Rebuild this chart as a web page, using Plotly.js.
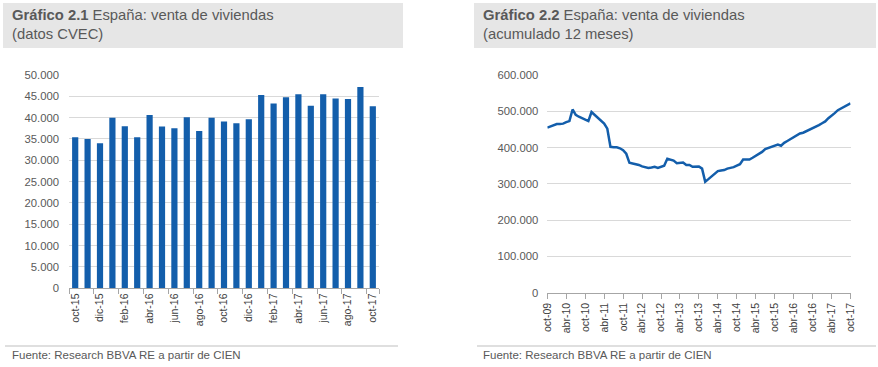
<!DOCTYPE html>
<html>
<head>
<meta charset="utf-8">
<script src="https://cdn.plot.ly/plotly-3.0.1.min.js"></script>
<style>
html,body{margin:0;padding:0;background:#fff;}
#chart{width:878px;height:367px;}
</style>
</head>
<body>
<div id="chart"></div>
<script>
// ---- Gráfico 2.1: monthly sales (CVEC) ----
const barMonths = ["oct-15","nov-15","dic-15","ene-16","feb-16","mar-16","abr-16","may-16","jun-16","jul-16","ago-16","sep-16","oct-16","nov-16","dic-16","ene-17","feb-17","mar-17","abr-17","may-17","jun-17","jul-17","ago-17","sep-17","oct-17"];
const barValues = [35400,35000,34000,40000,38000,35400,40600,37900,37500,40100,36900,40000,39100,38700,39600,45300,43300,44800,45500,42800,45500,44500,44400,47200,42700];
const barTickLabels = ["oct-15","dic-15","feb-16","abr-16","jun-16","ago-16","oct-16","dic-16","feb-17","abr-17","jun-17","ago-17","oct-17"];

// ---- Gráfico 2.2: 12-month accumulated sales, oct-09 .. oct-17 ----
const monthNames = ["ene","feb","mar","abr","may","jun","jul","ago","sep","oct","nov","dic"];
const lineValues = [455,458,462,465,465,466,470,473,505,490,485,481,477,473,498,490,481,474,466,452,402,401,401,398,393,383,358,356,355,352,348,345,344,345,347,344,347,350,369,366,364,357,359,359,352,352,347,347,348,342,306,313,320,329,335,337,338,342,343,346,350,354,367,367,367,372,377,381,388,396,399,402,405,408,405,413,418,423,429,435,439,441,445,449,452,457,462,467,472,481,487,495,503,508,513,517,522].map(v => v * 1000);
const lineTickLabels = ["oct-09","abr-10","oct-10","abr-11","oct-11","abr-12","oct-12","abr-13","oct-13","abr-14","oct-14","abr-15","oct-15","abr-16","oct-16","abr-17","oct-17"];

// month labels for the line (category names)
const lineMonths = [];
for (let i = 0; i < lineValues.length; i++) {
  const m = (9 + i) % 12;
  const y = 9 + Math.floor((9 + i) / 12);
  lineMonths.push(monthNames[m] + "-" + String(y).padStart(2, "0"));
}

const W = 878, H = 367;
const px = x => x / W;
const py = y => 1 - y / H;

const blue = "#135eab";
const gridC = "#d9d9d9";
const tickC = "#595959";
const xLabC = "#404040";
const fontFam = "Liberation Sans, Arial, sans-serif";

const traces = [
  {
    type: "bar", x: barMonths, y: barValues, xaxis: "x", yaxis: "y",
    marker: {color: blue}, hoverinfo: "x+y"
  },
  {
    type: "scatter", mode: "lines", x: lineMonths, y: lineValues, xaxis: "x2", yaxis: "y2",
    line: {color: blue, width: 2.5}, hoverinfo: "x+y"
  }
];

const layout = {
  width: W, height: H,
  margin: {l: 0, r: 0, t: 0, b: 0},
  paper_bgcolor: "#ffffff", plot_bgcolor: "rgba(0,0,0,0)",
  showlegend: false,
  separators: ",.",
  bargap: 0.5,
  font: {family: fontFam, color: tickC, size: 11},
  xaxis: {
    domain: [px(69), px(379)], anchor: "y",
    type: "category", tickmode: "array", tickvals: barTickLabels, ticktext: barTickLabels,
    tickson: "boundaries", ticks: "outside", ticklen: 5, tickcolor: "#a6a6a6",
    showgrid: false, showline: true, linecolor: "#a6a6a6", linewidth: 1,
    tickangle: -90, tickfont: {size: 10.5, color: xLabC, family: fontFam},
    fixedrange: true
  },
  yaxis: {
    domain: [py(288.3), py(75)], anchor: "x",
    range: [0, 50000], dtick: 5000, tickformat: ",.0f",
    showgrid: true, gridcolor: gridC, gridwidth: 1, zeroline: false, showline: false,
    ticks: "", ticklabelstandoff: 9, tickfont: {size: 11.3, color: tickC, family: fontFam},
    automargin: false, fixedrange: true
  },
  xaxis2: {
    domain: [px(547.3), px(850.5)], anchor: "y2",
    type: "category", range: [0, lineMonths.length - 1],
    tickmode: "array", tickvals: lineTickLabels, ticktext: lineTickLabels,
    ticks: "outside", ticklen: 5, tickcolor: "#a6a6a6",
    showgrid: false, showline: true, linecolor: "#a6a6a6", linewidth: 1,
    tickangle: -90, tickfont: {size: 10.5, color: xLabC, family: fontFam},
    fixedrange: true
  },
  yaxis2: {
    domain: [py(292.7), py(75)], anchor: "x2",
    range: [0, 600000], dtick: 100000, tickformat: ",.0f",
    showgrid: true, gridcolor: gridC, gridwidth: 1, zeroline: false, showline: false,
    ticks: "", ticklabelstandoff: 8, tickfont: {size: 11.3, color: tickC, family: fontFam},
    automargin: false, fixedrange: true
  },
  shapes: [
    {type: "rect", xref: "paper", yref: "paper", x0: px(3), x1: px(403), y0: py(48), y1: py(3), fillcolor: "#e6e6e6", line: {width: 0}, layer: "below"},
    {type: "rect", xref: "paper", yref: "paper", x0: px(474), x1: px(876), y0: py(48), y1: py(3), fillcolor: "#e6e6e6", line: {width: 0}, layer: "below"},
    {type: "line", xref: "paper", yref: "paper", x0: px(5), x1: px(398), y0: py(346), y1: py(346), line: {color: "#bfbfbf", width: 1}},
    {type: "line", xref: "paper", yref: "paper", x0: px(477), x1: px(876), y0: py(346), y1: py(346), line: {color: "#bfbfbf", width: 1}}
  ],
  annotations: [
    {xref: "paper", yref: "paper", x: px(10), y: py(5), xanchor: "left", yanchor: "top", align: "left", showarrow: false,
     text: "<b>Gráfico 2.1</b> España: venta de viviendas<br>(datos CVEC)", font: {size: 14.8, color: "#595959", family: fontFam}},
    {xref: "paper", yref: "paper", x: px(481), y: py(5), xanchor: "left", yanchor: "top", align: "left", showarrow: false,
     text: "<b>Gráfico 2.2</b> España: venta de viviendas<br>(acumulado 12 meses)", font: {size: 14.8, color: "#595959", family: fontFam}},
    {xref: "paper", yref: "paper", x: px(10), y: py(355), xanchor: "left", yanchor: "middle", showarrow: false,
     text: "Fuente: Research BBVA RE a partir de CIEN", font: {size: 11.5, color: "#595959", family: fontFam}},
    {xref: "paper", yref: "paper", x: px(481), y: py(355), xanchor: "left", yanchor: "middle", showarrow: false,
     text: "Fuente: Research BBVA RE a partir de CIEN", font: {size: 11.5, color: "#595959", family: fontFam}}
  ]
};

Plotly.newPlot("chart", traces, layout, {displayModeBar: false, staticPlot: true});
</script>
</body>
</html>
